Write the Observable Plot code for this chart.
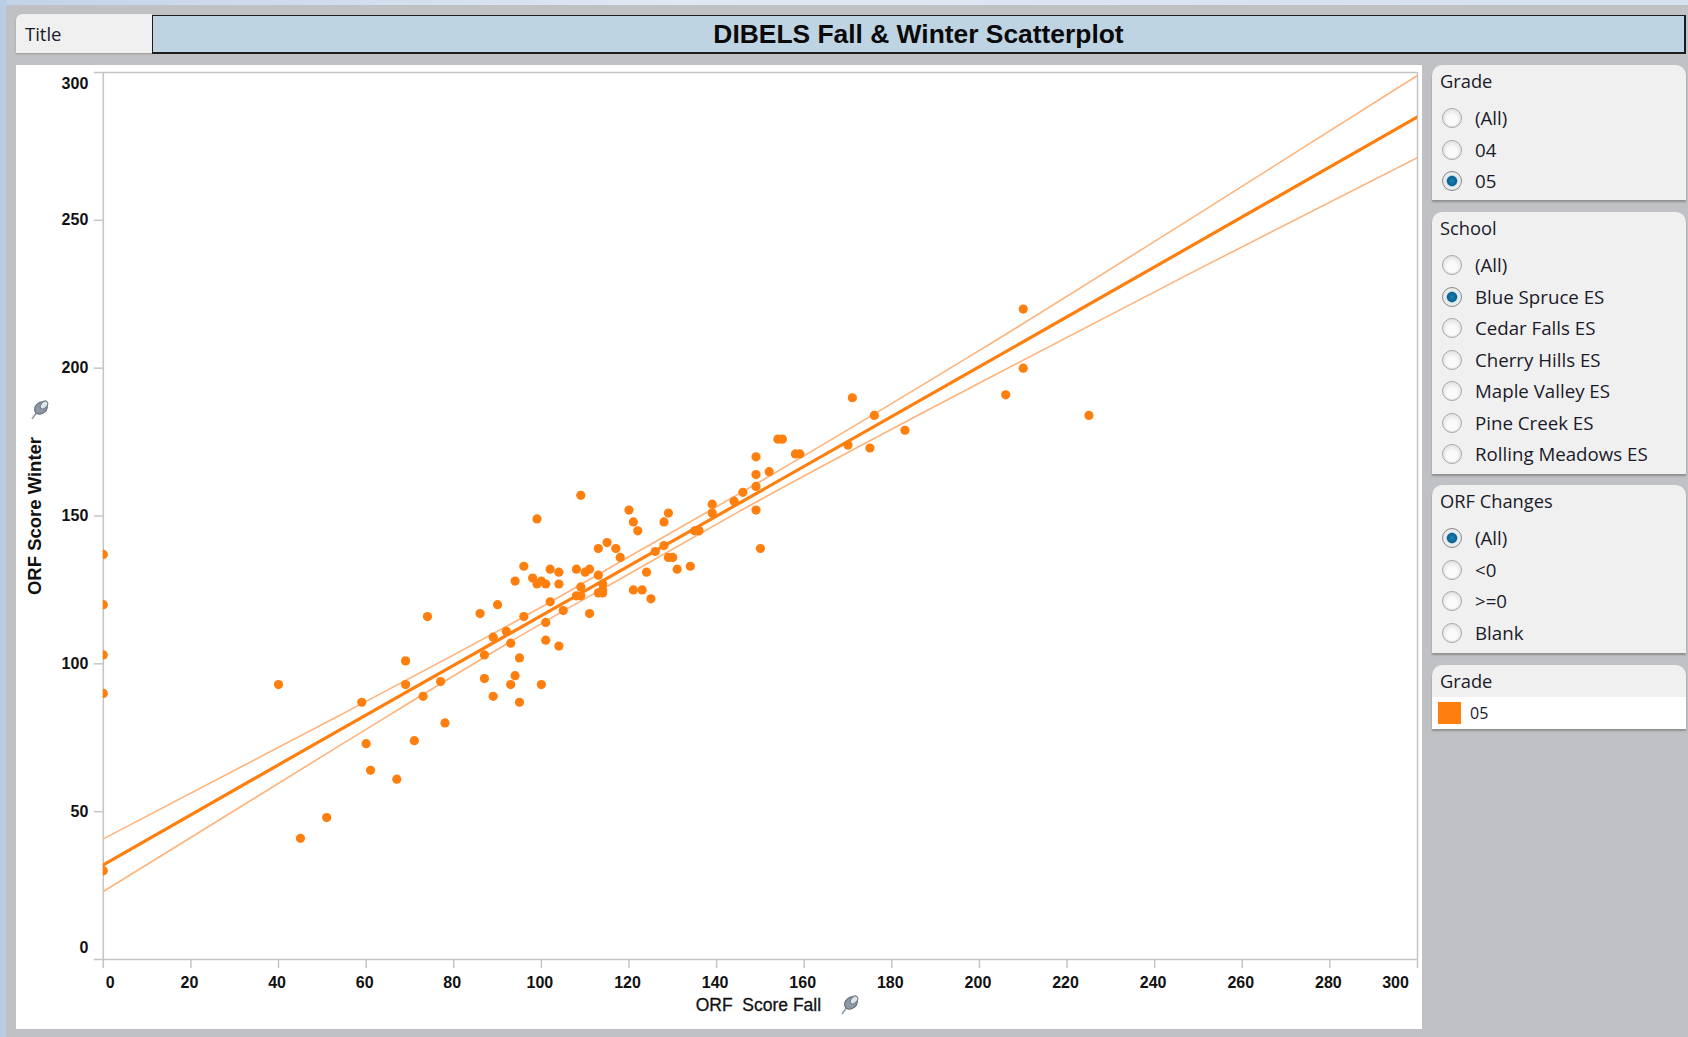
<!DOCTYPE html>
<html>
<head>
<meta charset="utf-8">
<script src="https://cdn.jsdelivr.net/npm/d3@7"></script>
<script src="https://cdn.jsdelivr.net/npm/@observablehq/plot@0.6"></script>
<style>
html,body{margin:0;padding:0;width:1688px;height:1037px;overflow:hidden;background:#c0c1c5;font-family:"Open Sans","Noto Sans",sans-serif;color:#1a1a2a}
#stripTop{position:absolute;left:0;top:0;width:1688px;height:5px;background:linear-gradient(90deg,#c3d3e8,#dfe7f2 40%,#d5e0ee)}
#stripLeft{position:absolute;left:0;top:0;width:6px;height:1037px;background:#b9cde3}
#titleTag{position:absolute;left:16px;top:14px;width:136px;height:39px;background:#f0f0f0;border-radius:6px 0 0 0;box-shadow:0 1px 2px #999;font-size:18.5px;line-height:40px;text-indent:9px}
#titleBox{position:absolute;left:152px;top:15px;width:1531px;height:36px;background:#bfd4e2;border:1px solid #1c1c1c;border-width:1px 2px 2px 1px;text-align:center;font:bold 26.4px/37px "Liberation Sans",Arial,sans-serif;color:#0a0a0a}
#chart{position:absolute;left:16px;top:65px;width:1406px;height:964px;background:#fff}
#chart svg{display:block}
.card{position:absolute;left:1432px;width:254px;background:#f0f0f0;border-radius:10px 10px 0 0;box-shadow:0 2px 2px #8f8f8f;box-sizing:border-box}
.card h3{margin:0;position:absolute;left:8px;top:4px;font-size:18.3px;font-weight:400;line-height:24px}
.opt{position:absolute;left:10px;height:26px;line-height:24px;font-size:18.7px;white-space:nowrap}
.opt i{position:absolute;left:0;top:2px;width:20px;height:20px;border-radius:50%;box-sizing:border-box;border:1.5px solid #a8a8a8;background:radial-gradient(circle at 50% 60%,#fafafa 35%,#d4d4d4 100%);box-shadow:inset 0 0 0 1px #e8e8e8}
.opt.on i{border-color:#8a8a8a;background:radial-gradient(circle at 50% 50%,#1a86b8 0,#0a5f8f 36%,#e3eef3 46%,#eeeeee 62%,#bdbdbd 100%)}
.opt span{position:absolute;left:33px;top:0}
.pin{position:absolute;width:20px;height:20px}
</style>
</head>
<body>
<div id="stripTop"></div>
<div id="stripLeft"></div>
<div id="titleTag">Title</div>
<div id="titleBox">DIBELS Fall &amp; Winter Scatterplot</div>
<div id="chart"></div>
<div id="side"></div>
<script>
// Points
const orfFall = [0,0,0,0,0,40,45,51,59,60,61,67,69,69,71,73,74,77,78,86,87,87,89,89,90,92,93,93,94,94,95,95,96,96,98,99,99,100,100,101,101,101,102,102,104,104,104,105,108,108,109,109,109,110,111,111,113,113,113,114,114,114,115,117,118,120,121,121,122,123,124,125,126,128,128,129,129,130,131,134,135,136,139,139,144,146,149,149,149,149,150,152,154,155,158,159,170,171,175,176,183,206,210,210,225];
const orfWinter = [137,120,103,90,30,93,41,48,87,73,64,61,101,93,74,89,116,94,80,117,103,95,109,89,120,111,107,93,128,96,102,87,133,116,129,149,127,128,93,127,114,108,132,121,131,127,106,118,132,123,157,126,123,131,132,117,139,130,124,127,125,124,141,139,136,152,148,125,145,125,131,122,138,148,140,151,136,136,132,133,145,145,154,151,155,158,170,164,160,152,139,165,176,176,171,171,174,190,173,184,179,191,220,200,184];
// Trend line and its confidence bounds
const trendFall = [0,54,100,120,145,200,250,300];
const trendMid = [32,77.7,116.3,133.1,154.2,200.5,242.7,285];
const trendUpper = [40.8,82.6,119.2,136.2,157.4,206,252.2,299];
const trendLower = [23,72.4,113.6,130.4,151.4,195,233.5,271.2];
// Axes
const xTicks = [0,20,40,60,80,100,120,140,160,180,200,220,240,260,280,300];
const yTicks = [0,50,100,150,200,250,300];
const xLabel = "ORF  Score Fall";
const yLabel = "ORF Score Winter";
// Filter cards
const gradeOptions = ["(All)","04","05"];
const schoolOptions = ["(All)","Blue Spruce ES","Cedar Falls ES","Cherry Hills ES","Maple Valley ES","Pine Creek ES","Rolling Meadows ES"];
const changeOptions = ["(All)","<0",">=0","Blank"];
const legendTitle = "Grade";
const legendValue = "05";

const orange = "#ff7f0e", pale = "#ffb37a", axisGrey = "#c4c4c4";
const points = orfFall.map((x,i)=>({x,y:orfWinter[i]}));
const trend = trendFall.map((x,i)=>({x,mid:trendMid[i],up:trendUpper[i],lo:trendLower[i]}));
const font = {fontFamily:'"Liberation Sans",Arial,sans-serif',fontSize:16,fontWeight:"bold"};

const plot = Plot.plot({
  width:1406,height:964,marginLeft:86.8,marginRight:5,marginTop:7,marginBottom:70,
  style:{background:"#fff",color:"#111",overflow:"visible"},
  x:{domain:[0,300],label:null},
  y:{domain:[0,300],label:null},
  marks:[
    Plot.ruleX([0,300],{stroke:axisGrey,strokeWidth:1.5}),
    Plot.ruleY([0,300],{stroke:axisGrey,strokeWidth:1.5}),
    Plot.axisX({ticks:xTicks,tickSize:9,stroke:axisGrey,strokeWidth:1.5,fill:"none",label:null}),
    Plot.axisY({ticks:yTicks,tickSize:9,stroke:axisGrey,strokeWidth:1.5,fill:"none",label:null}),
    Plot.axisX({ticks:xTicks.slice(1,-1),tickSize:0,tickPadding:17,dx:-1.5,fill:"#111",label:null,...font}),
    Plot.axisX({ticks:[0],tickSize:0,tickPadding:17,dx:7,fill:"#111",label:null,...font}),
    Plot.axisX({ticks:[300],tickSize:0,tickPadding:17,dx:-22,fill:"#111",label:null,...font}),
    Plot.axisY({ticks:yTicks.slice(1,-1),tickSize:0,tickPadding:15,fill:"#111",label:null,...font}),
    Plot.axisY({ticks:[300],tickSize:0,tickPadding:15,dy:11,fill:"#111",label:null,...font}),
    Plot.axisY({ticks:[0],tickSize:0,tickPadding:15,dy:-12,fill:"#111",label:null,...font}),
    Plot.text([xLabel],{frameAnchor:"bottom",textAnchor:"middle",lineAnchor:"middle",dy:46,dx:-2,text:d=>d,fill:"#111",stroke:"#111",strokeWidth:0.3,fontFamily:font.fontFamily,fontSize:17.5,fontWeight:500}),
    Plot.text([yLabel],{frameAnchor:"left",textAnchor:"middle",lineAnchor:"middle",dx:-68,rotate:-90,text:d=>d,fill:"#111",fontFamily:font.fontFamily,fontSize:18.5,fontWeight:"bold"}),
    Plot.line(trend,{x:"x",y:"up",stroke:pale,strokeWidth:1.6,curve:"monotone-x",clip:"frame"}),
    Plot.line(trend,{x:"x",y:"lo",stroke:pale,strokeWidth:1.6,curve:"monotone-x",clip:"frame"}),
    Plot.line(trend,{x:"x",y:"mid",stroke:orange,strokeWidth:3.2,clip:"frame"}),
    Plot.dot(points,{x:"x",y:"y",r:4.6,fill:orange,clip:"frame"})
  ]
});
document.getElementById("chart").appendChild(plot);

const side = document.getElementById("side");
function card(title, opts, selected, top, height, firstY){
  const c = document.createElement("div");
  c.className = "card"; c.style.top = top+"px"; c.style.height = height+"px";
  const h = document.createElement("h3"); h.textContent = title; c.appendChild(h);
  opts.forEach((o,i)=>{
    const d = document.createElement("div");
    d.className = "opt"+(o===selected?" on":"");
    d.style.top = (firstY + i*31.5 - 12 - top)+"px";
    d.innerHTML = "<i></i>";
    const s = document.createElement("span"); s.textContent = o; d.appendChild(s);
    c.appendChild(d);
  });
  side.appendChild(c);
  return c;
}
card("Grade",gradeOptions,"05",65,135,118);
card("School",schoolOptions,"Blue Spruce ES",212,262,265);
card("ORF Changes",changeOptions,"(All)",485,168,538);
const lg = card(legendTitle,[],null,665,64,0);
const body = document.createElement("div");
body.style.cssText = "position:absolute;left:0;top:32px;width:100%;height:32px;background:#fff";
const sw = document.createElement("div");
sw.style.cssText = "position:absolute;left:6px;top:5px;width:23px;height:22px;background:"+orange;
const t = document.createElement("div");
t.textContent = legendValue;
t.style.cssText = "position:absolute;left:38px;top:3px;font-size:16px;line-height:26px";
body.append(sw,t); lg.appendChild(body);

function pin(left,top){
  const ns="http://www.w3.org/2000/svg";
  const s=document.createElementNS(ns,"svg");
  s.setAttribute("class","pin");s.setAttribute("viewBox","0 0 20 20");
  s.style.left=left+"px";s.style.top=top+"px";
  s.innerHTML='<path d="M2 19 L7 12" stroke="#8a97a6" stroke-width="1.5"/><ellipse cx="11" cy="8" rx="7" ry="5.5" transform="rotate(-40 11 8)" fill="#8e98a4" stroke="#5f6b78"/><ellipse cx="14" cy="5" rx="3" ry="4.5" transform="rotate(40 14 5)" fill="#dfe4ea" stroke="#6e7a86"/>';
  document.body.appendChild(s);
}
pin(840,995);
pin(30,400);
</script>
</body>
</html>
